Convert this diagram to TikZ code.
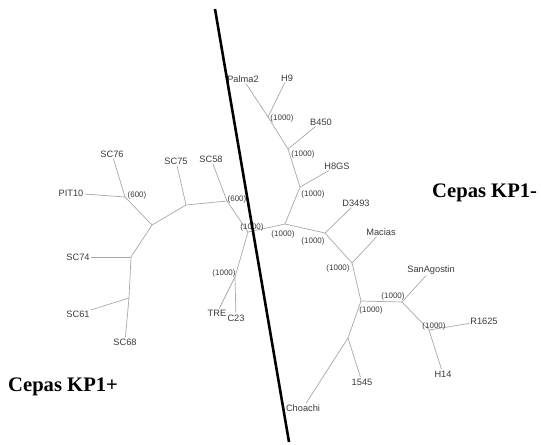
\documentclass[tikz,border=0pt]{standalone}
\usepackage{fontspec}
\setmainfont{Liberation Serif}
\newfontfamily\arialfont{Liberation Sans}
\definecolor{branchgray}{HTML}{A8A8A8}
\definecolor{textgray}{HTML}{3A3A3A}
\tikzset{
	leaf/.style={font=\arialfont\fontsize{7.9}{8.5}\selectfont, text=textgray, inner sep=1pt},
	boot/.style={font=\arialfont\fontsize{6.8}{7}\selectfont, text=textgray, inner sep=0pt},
	branch/.style={draw=branchgray, line width=0.6pt},
	group/.style={font=\bfseries\fontsize{17.6}{19}\selectfont, inner sep=0pt}
}

\begin{document}
\begin{tikzpicture}[x=0.03cm, y=-0.03cm]

		\useasboundingbox (0,0) rectangle (541,444);

		% inner nodes of the tree
		\coordinate (A) at (125,197);
		\coordinate (B) at (152,225);
		\coordinate (C) at (186,205);
		\coordinate (D) at (227,201);
		\coordinate (E) at (248,232);
		\coordinate (F) at (235,277);
		\coordinate (G) at (131,257);
		\coordinate (H) at (129,298);
		\coordinate (I) at (268,117);
		\coordinate (J) at (288,149);
		\coordinate (K) at (300,187);
		\coordinate (L) at (285,224);
		\coordinate (M) at (325,233);
		\coordinate (N) at (352,263);
		\coordinate (O) at (361,301);
		\coordinate (P) at (402,302);
		\coordinate (Q) at (429,330);
		\coordinate (R) at (348,338);

		% strains
		\node[leaf] (sc76) at (112,154) {SC76};
		\node[leaf] (pit10) at (71,193) {PIT10};
		\node[leaf] (sc75) at (176,161) {SC75};
		\node[leaf] (sc58) at (211,159) {SC58};
		\node[leaf] (sc74) at (78,257) {SC74};
		\node[leaf] (sc61) at (78,314) {SC61};
		\node[leaf] (sc68) at (125,342) {SC68};
		\node[leaf] (tre) at (217,313) {TRE};
		\node[leaf] (c23) at (236,318) {C23};
		\node[leaf] (palma2) at (243,79) {Palma2};
		\node[leaf] (h9) at (287,78) {H9};
		\node[leaf] (b450) at (321,122) {B450};
		\node[leaf] (h8gs) at (337,166) {H8GS};
		\node[leaf] (d3493) at (356,203) {D3493};
		\node[leaf] (macias) at (381,232) {Macias};
		\node[leaf] (sanagostin) at (431,270) {SanAgostin};
		\node[leaf] (r1625) at (484,321) {R1625};
		\node[leaf] (h14) at (443,374) {H14};
		\node[leaf] (s1545) at (362,382) {1545};
		\node[leaf] (choachi) at (303,408) {Choachi};

		% branches
		\draw[branch] (A) -- (B) -- (C) -- (D) -- (E) -- (F);
		\draw[branch] (B) -- (G) -- (H);
		\draw[branch] (E) -- (L) -- (K) -- (J) -- (I);
		\draw[branch] (L) -- (M) -- (N) -- (O) -- (P) -- (Q);
		\draw[branch] (O) -- (R);

		\draw[branch] (A) -- (sc76);
		\draw[branch] (A) -- (pit10);
		\draw[branch] (C) -- (sc75);
		\draw[branch] (D) -- (sc58);
		\draw[branch] (G) -- (sc74);
		\draw[branch] (H) -- (sc61);
		\draw[branch] (H) -- (sc68);
		\draw[branch] (F) -- (tre);
		\draw[branch] (F) -- (c23);
		\draw[branch] (I) -- (palma2);
		\draw[branch] (I) -- (h9);
		\draw[branch] (J) -- (b450);
		\draw[branch] (K) -- (h8gs);
		\draw[branch] (M) -- (d3493);
		\draw[branch] (N) -- (macias);
		\draw[branch] (P) -- (sanagostin);
		\draw[branch] (Q) -- (r1625);
		\draw[branch] (Q) -- (h14);
		\draw[branch] (R) -- (s1545);
		\draw[branch] (R) -- (choachi);

		% bootstrap values
		\node[boot] (bA) at (137,195) {(600)};
		\node[boot] (bD) at (237,199) {(600)};
		\node[boot] (bE) at (252,227) {(1000)};
		\node[boot] (bF) at (224,273) {(1000)};
		\node[boot] (bI) at (282,118) {(1000)};
		\node[boot] (bJ) at (303,154) {(1000)};
		\node[boot] (bK) at (313,194) {(1000)};
		\node[boot] (bL) at (283,234) {(1000)};
		\node[boot] (bM) at (313,241) {(1000)};
		\node[boot] (bN) at (338,268) {(1000)};
		\node[boot] (bO) at (371,310) {(1000)};
		\node[boot] (bP) at (393,296) {(1000)};
		\node[boot] (bQ) at (434,326) {(1000)};

		% dividing line
		\coordinate (cutTop) at (215,9);
		\coordinate (cutBot) at (289,442);
		\draw[line width=2.2pt] (cutTop) -- (cutBot);

		\node[group, anchor=west] (kpneg) at (432,193) {Cepas KP1-};
		\node[group, anchor=west] (kppos) at (8,387) {Cepas KP1+};

\end{tikzpicture}
\end{document}
